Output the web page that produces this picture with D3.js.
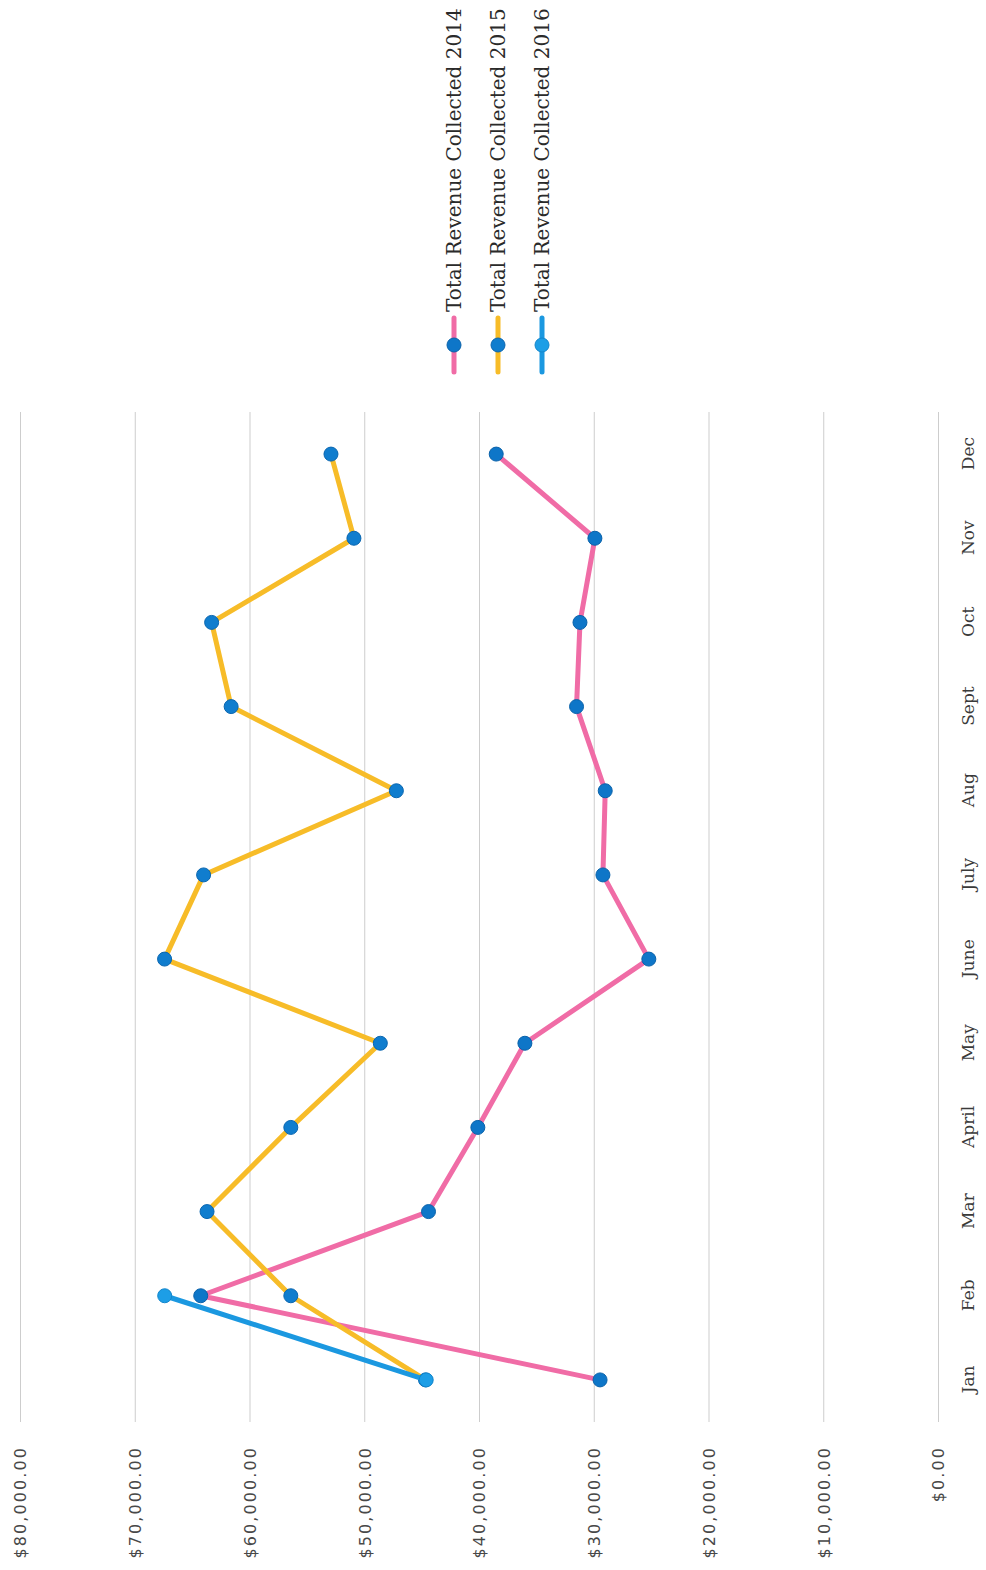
<!DOCTYPE html>
<html>
<head>
<meta charset="utf-8">
<script src="https://cdn.jsdelivr.net/npm/d3@7"></script>
<style>
  html, body { margin: 0; padding: 0; background: #ffffff; }
  svg { display: block; }
</style>
</head>
<body>
<svg id="chart" width="986" height="1570"></svg>
<script>
// Monthly revenue collected, by year
const months = ["Jan", "Feb", "Mar", "April", "May", "June", "July", "Aug", "Sept", "Oct", "Nov", "Dec"];
const revenue2014 = [29450, 64250, 44400, 40100, 36000, 25200, 29200, 29000, 31500, 31200, 29900, 38500];
const revenue2015 = [44660, 56400, 63700, 56400, 48600, 67400, 64000, 47200, 61600, 63300, 50900, 52900];
const revenue2016 = [44600, 67390];
const valueTicks = [0, 10000, 20000, 30000, 40000, 50000, 60000, 70000, 80000];
const seriesNames = ["Total Revenue Collected 2014", "Total Revenue Collected 2015", "Total Revenue Collected 2016"];

const series = [
  { name: seriesNames[0], values: revenue2014, line: "#f06ca6", marker: "#0e76c8", markerStroke: "#0a62aa" },
  { name: seriesNames[1], values: revenue2015, line: "#f7bc28", marker: "#107dce", markerStroke: "#0a66b0" },
  { name: seriesNames[2], values: revenue2016, line: "#1b98e0", marker: "#1d9ee6", markerStroke: "#1286cc" }
];

// The chart is laid out on a 1570 x 986 landscape canvas, then turned a quarter turn onto the portrait page.
const W = 1570, H = 986;
const plot = { left: 148, right: 1158, top: 20, bottom: 938 };

const svg = d3.select("#chart");
svg.append("rect").attr("width", 986).attr("height", 1570).attr("fill", "#ffffff");

const g = svg.append("g").attr("transform", `translate(0,${W}) rotate(-90)`);

const x = d3.scalePoint().domain(months).range([plot.left, plot.right]).padding(0.5);
const y = d3.scaleLinear().domain([0, 80000]).range([plot.bottom, plot.top]);

const money = v => "$" + d3.format(",.2f")(v);

// Value axis with gridlines across the plot
const yAxis = g.append("g")
  .attr("transform", `translate(${plot.left},0)`)
  .call(d3.axisLeft(y).tickValues(valueTicks).tickFormat(money)
    .tickSize(-(plot.right - plot.left)).tickPadding(24));
yAxis.select(".domain").remove();
yAxis.selectAll(".tick line").attr("stroke", "#cdcdcd").attr("stroke-width", 1);
yAxis.selectAll(".tick text")
  .attr("fill", "#484848")
  .attr("dy", "0.36em")
  .style("font-family", "'DejaVu Sans', Verdana, sans-serif")
  .style("font-size", "16px")
  .style("letter-spacing", "2.1px");

// Month axis
const xAxis = g.append("g")
  .attr("transform", `translate(0,${plot.bottom})`)
  .call(d3.axisBottom(x).tickSize(0).tickPadding(0));
xAxis.select(".domain").remove();
xAxis.selectAll(".tick text")
  .attr("y", 30)
  .attr("dy", "0.36em")
  .attr("fill", "#3a3a3a")
  .style("font-family", "'DejaVu Serif', 'Liberation Serif', serif")
  .style("font-size", "17px");

// Series lines and markers, drawn in year order
const line = d3.line().x((d, i) => x(months[i])).y(d => y(d));
series.forEach(s => {
  const sg = g.append("g");
  sg.append("path")
    .datum(s.values)
    .attr("d", line)
    .attr("fill", "none")
    .attr("stroke", s.line)
    .attr("stroke-width", 5)
    .attr("stroke-linejoin", "round")
    .attr("stroke-linecap", "round");
  sg.selectAll("circle")
    .data(s.values)
    .join("circle")
    .attr("cx", (d, i) => x(months[i]))
    .attr("cy", d => y(d))
    .attr("r", 7)
    .attr("fill", s.marker)
    .attr("stroke", s.markerStroke)
    .attr("stroke-width", 1);
});

// Legend
const legend = g.append("g").attr("transform", "translate(1198,454)");
const item = legend.selectAll("g")
  .data(series)
  .join("g")
  .attr("transform", (d, i) => `translate(0,${i * 44})`);
item.append("line")
  .attr("x1", 0).attr("x2", 54).attr("y1", 0).attr("y2", 0)
  .attr("stroke", d => d.line).attr("stroke-width", 5).attr("stroke-linecap", "round");
item.append("circle")
  .attr("cx", 27).attr("cy", 0).attr("r", 7)
  .attr("fill", d => d.marker).attr("stroke", d => d.markerStroke).attr("stroke-width", 1);
item.append("text")
  .attr("x", 60).attr("y", 0).attr("dy", "0.36em")
  .attr("fill", "#2a2a2a")
  .style("font-family", "'DejaVu Serif', 'Liberation Serif', serif")
  .style("font-size", "20px")
  .text(d => d.name);
</script>
</body>
</html>
